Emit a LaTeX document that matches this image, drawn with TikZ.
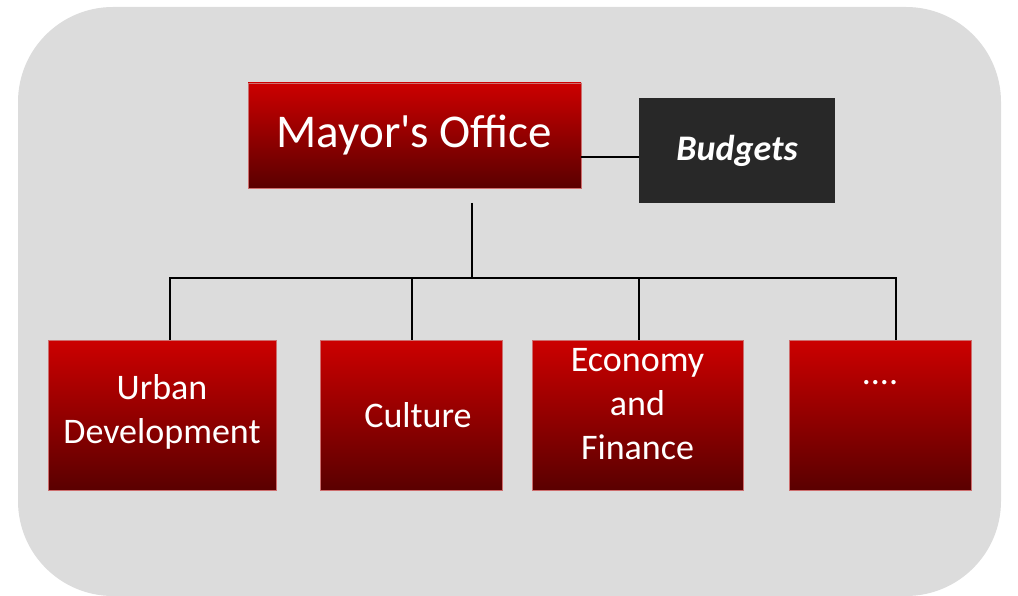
\documentclass[tikz,border=0pt]{standalone}
\usepackage{fontspec}
\setmainfont{Carlito}
\usetikzlibrary{positioning}
\definecolor{bggray}{RGB}{220,220,220}
\definecolor{redtop}{RGB}{204,0,0}
\definecolor{redmid}{RGB}{150,0,0}
\definecolor{redbot}{RGB}{90,0,0}
\definecolor{redline}{RGB}{205,110,110}
\definecolor{boxdark}{RGB}{40,40,40}

\begin{document}
\begin{tikzpicture}[x=1pt,y=-1pt,
    redbox/.style={draw=redline,line width=0.6pt,top color=redtop,middle color=redmid,bottom color=redbot,
        text=white,align=center,inner sep=0pt,font=\fontsize{36}{44}\selectfont},
    unit/.style={redbox,minimum height=150pt},
    link/.style={line width=1.6pt,black}]
        \useasboundingbox (0,0) rectangle (1018,596);
        \fill[bggray,rounded corners=95pt] (18,7) rectangle (1001,596);

        \node[redbox,minimum width=333pt,minimum height=105pt,font=\fontsize{47}{56}\selectfont] (mayor) at (414.5,135.5) {\raisebox{1.5pt}{Mayor\textquotesingle s Office}};
        \node[fill=boxdark,text=white,minimum width=196pt,minimum height=105pt,inner sep=0pt,
              font=\fontsize{36}{44}\selectfont\bfseries\itshape] (budgets) at (737,150.5) {Budgets};

        \node[unit,minimum width=228pt] (urban) at (162,415) {\raisebox{-4pt}[0pt][0pt]{\begin{tabular}{@{}c@{}}Urban\\Development\end{tabular}}};
        \node[unit,minimum width=182pt] (culture) at (411,415) {\hspace{14pt}Culture};
        \node[unit,minimum width=211pt] (economy) at (637.5,415) {\raisebox{2pt}[0pt][0pt]{\begin{tabular}{@{}c@{}}Economy\\and\\Finance\end{tabular}}};
        \node[unit,minimum width=182pt] (dots) at (880,415) {\raisebox{31pt}[0pt][0pt]{....}};

        \coordinate (stem) at (472,203);
        \coordinate (hub) at (472,278);
        \draw[link] ([yshift=-21.5pt]mayor.east) -- ([yshift=-21.5pt]mayor.east -| budgets.west);
        \draw[link] (stem) -- (hub);
        \draw[link] (hub) -| ([xshift=8pt]urban.north);
        \draw[link] (hub) -| ([xshift=1pt]culture.north);
        \draw[link] (hub) -| ([xshift=1.5pt]economy.north);
        \draw[link] (hub) -| ([xshift=16pt]dots.north);
    \end{tikzpicture}
\end{document}
